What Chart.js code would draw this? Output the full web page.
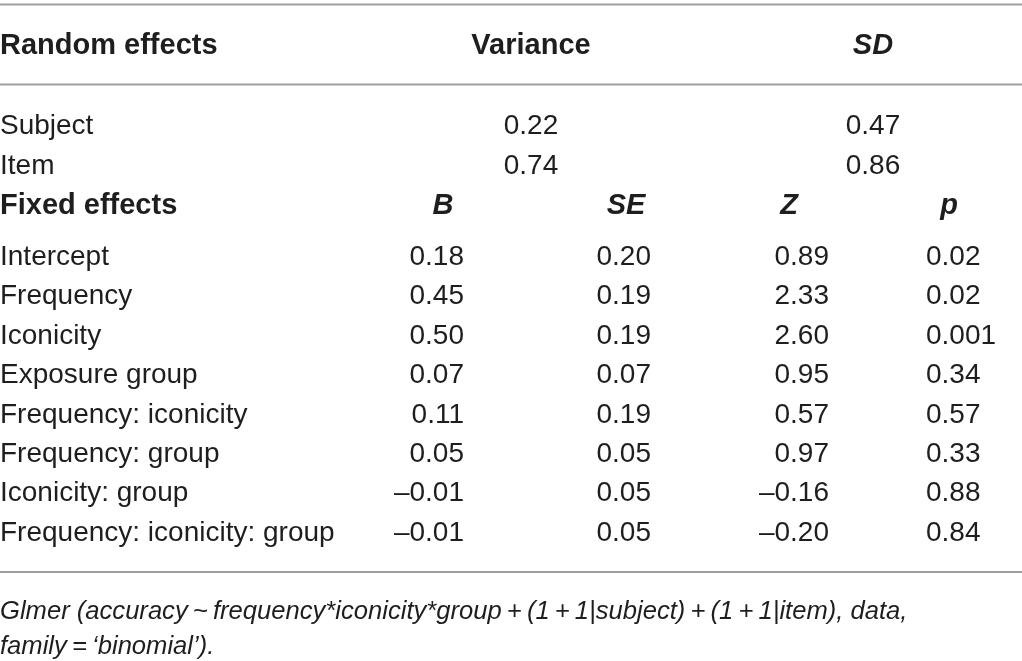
<!DOCTYPE html>
<html>
<head>
<meta charset="utf-8">
<script src="https://cdn.jsdelivr.net/npm/chart.js@4"></script>
<style>
  html, body { margin: 0; padding: 0; background: #fff; }
  #wrap { width: 1022px; height: 661px; }
</style>
</head>
<body>
<div id="wrap"><canvas id="myChart"></canvas></div>
<script>
// table contents
const randomHead = ["Random effects", "Variance", "SD"]
const randomNames = ["Subject", "Item"]
const variance = [0.22, 0.74]
const sd = [0.47, 0.86]

const fixedHead = ["Fixed effects", "B", "SE", "Z", "p"]
const fixedNames = ["Intercept", "Frequency", "Iconicity", "Exposure group",
  "Frequency: iconicity", "Frequency: group", "Iconicity: group", "Frequency: iconicity: group"]
const estB = [0.18, 0.45, 0.50, 0.07, 0.11, 0.05, -0.01, -0.01]
const estSE = [0.20, 0.19, 0.19, 0.07, 0.19, 0.05, 0.05, 0.05]
const estZ = [0.89, 2.33, 2.60, 0.95, 0.57, 0.97, -0.16, -0.20]
const estP = [0.02, 0.02, 0.001, 0.34, 0.57, 0.33, 0.88, 0.84]

const note = [
  "Glmer (accuracy\u2009~\u2009frequency*iconicity*group\u2009+\u2009(1\u2009+\u20091|subject)\u2009+\u2009(1\u2009+\u20091|item), data,",
  "family\u2009=\u2009\u2018binomial\u2019)."
]

// layout (pixels in a 1022 x 661 frame)
const W = 1022, H = 661
const headY = 54
const randY = [134, 174]
const fixHeadY = 214
const bodyY0 = 265, pitch = 39.4
const noteY = [619, 654]
const ruleY = [4.5, 84.5, 572]
const col = { label: 0, varC: 531, sdC: 873, bR: 464, bC: 443, seR: 651, seC: 626, zR: 829, zC: 789, pL: 926, pC: 949 }

const fam = '"Liberation Sans", Arial, sans-serif'
const fReg = '28px ' + fam
const fBold = 'bold 29px ' + fam
const fBoldIt = 'italic bold 29px ' + fam
const fNote = 'italic 25.6px ' + fam
const ink = '#1e1e1e'

function fmt(v) {
  let s = Math.abs(v).toString()
  if (!s.includes('.') || s.split('.')[1].length < 2) s = Math.abs(v).toFixed(2)
  return (v < 0 ? '\u2013' : '') + s
}

const bodyY = fixedNames.map((n, i) => bodyY0 + i * pitch)

function cells(texts, x, ys, font, align) {
  return {
    type: 'scatter',
    data: texts.map((t, i) => ({ x: x, y: ys[i] })),
    texts: texts,
    font: font,
    align: align,
    pointRadius: 0,
    showLine: false
  }
}

function rule(y) {
  return {
    type: 'line',
    data: [{ x: 0, y: y }, { x: W, y: y }],
    borderColor: '#9d9d9d',
    borderWidth: 2,
    pointRadius: 0,
    fill: false
  }
}

const datasets = [
  ...ruleY.map(rule),
  cells([randomHead[0]], col.label, [headY], fBold, 'left'),
  cells([randomHead[1]], col.varC, [headY], fBold, 'center'),
  cells([randomHead[2]], col.sdC, [headY], fBoldIt, 'center'),
  cells(randomNames, col.label, randY, fReg, 'left'),
  cells(variance.map(fmt), col.varC, randY, fReg, 'center'),
  cells(sd.map(fmt), col.sdC, randY, fReg, 'center'),
  cells([fixedHead[0]], col.label, [fixHeadY], fBold, 'left'),
  cells([fixedHead[1]], col.bC, [fixHeadY], fBoldIt, 'center'),
  cells([fixedHead[2]], col.seC, [fixHeadY], fBoldIt, 'center'),
  cells([fixedHead[3]], col.zC, [fixHeadY], fBoldIt, 'center'),
  cells([fixedHead[4]], col.pC, [fixHeadY], fBoldIt, 'center'),
  cells(fixedNames, col.label, bodyY, fReg, 'left'),
  cells(estB.map(fmt), col.bR, bodyY, fReg, 'right'),
  cells(estSE.map(fmt), col.seR, bodyY, fReg, 'right'),
  cells(estZ.map(fmt), col.zR, bodyY, fReg, 'right'),
  cells(estP.map(fmt), col.pL, bodyY, fReg, 'left'),
  cells(note, col.label, noteY, fNote, 'left')
]

const cellText = {
  id: 'cellText',
  afterDatasetsDraw(chart) {
    const ctx = chart.ctx
    ctx.save()
    ctx.fillStyle = ink
    ctx.textBaseline = 'alphabetic'
    chart.data.datasets.forEach((ds, i) => {
      if (!ds.texts) return
      ctx.font = ds.font
      ctx.textAlign = ds.align
      chart.getDatasetMeta(i).data.forEach((el, j) => {
        ctx.fillText(ds.texts[j], el.x, el.y)
      })
    })
    ctx.restore()
  }
}

new Chart(document.getElementById('myChart'), {
  type: 'scatter',
  data: { datasets: datasets },
  plugins: [cellText],
  options: {
    responsive: true,
    maintainAspectRatio: false,
    animation: false,
    layout: { padding: 0 },
    scales: {
      x: { type: 'linear', min: 0, max: W, display: false },
      y: { type: 'linear', min: 0, max: H, reverse: true, display: false }
    },
    plugins: {
      legend: { display: false },
      tooltip: { enabled: false }
    }
  }
})
</script>
</body>
</html>
